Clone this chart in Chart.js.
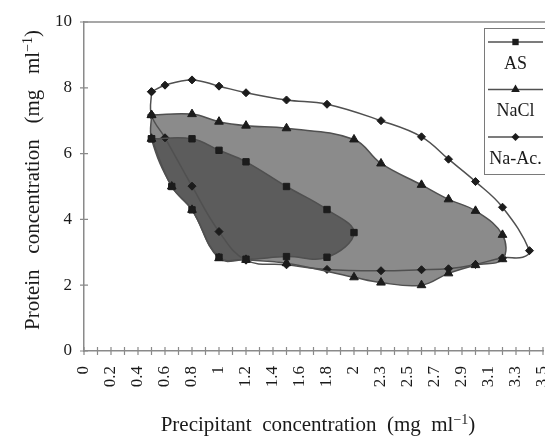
<!DOCTYPE html>
<html><head><meta charset="utf-8">
<style>html,body{margin:0;padding:0;overflow:hidden;background:#fff;width:545px;height:437px}canvas{display:block}</style>
<script src="https://cdn.jsdelivr.net/npm/chart.js@4.4.1/dist/chart.umd.min.js"></script>
</head><body>
<canvas id="c" width="560" height="437"></canvas>
<script>
// x values are positions along the precipitant axis (one tick = 0.1 position unit)
const tickLabels = ['0','0.2','0.4','0.6','0.8','1','1.2','1.4','1.6','1.8','2','2.3','2.5','2.7','2.9','3.1','3.3','3.5'];
const seriesNames = ['AS', 'NaCl', 'Na-Ac.'];

const asX = [0.5, 0.8, 1.0, 1.2, 1.5, 1.8, 2.0, 1.8, 1.5, 1.2, 1.0, 0.8, 0.65, 0.5];
const asY = [6.45, 6.45, 6.1, 5.75, 5.0, 4.3, 3.6, 2.85, 2.87, 2.79, 2.85, 4.29, 5.0, 6.45];

const naclX = [0.5, 0.8, 1.0, 1.2, 1.5, 2.0, 2.2, 2.5, 2.7, 2.9, 3.1, 3.1, 2.9, 2.7, 2.5, 2.2, 2.0, 1.5, 1.2, 1.0, 0.8, 0.65, 0.5, 0.5];
const naclY = [7.17, 7.2, 6.97, 6.85, 6.77, 6.43, 5.7, 5.05, 4.61, 4.26, 3.53, 2.79, 2.61, 2.36, 2.0, 2.08, 2.24, 2.67, 2.77, 2.82, 4.29, 5.0, 6.45, 7.17];

const naacX = [0.5, 0.6, 0.8, 1.0, 1.2, 1.5, 1.8, 2.2, 2.5, 2.7, 2.9, 3.1, 3.3, 3.25, 3.1, 2.9, 2.7, 2.5, 2.2, 1.8, 1.5, 1.2, 1.0, 0.8, 0.6, 0.5, 0.5];
const naacY = [7.88, 8.08, 8.24, 8.05, 7.85, 7.63, 7.5, 7.0, 6.51, 5.83, 5.15, 4.37, 3.05, 2.85, 2.83, 2.63, 2.5, 2.47, 2.44, 2.48, 2.62, 2.76, 3.63, 5.01, 6.48, 7.17, 7.88];

const pts = (xs, ys) => xs.map((x, i) => ({x: x, y: ys[i]}));
const FONT = 'Liberation Serif';
const LINE = '#505050';
const MARK = '#1c1c1c';

function marker(ctx, style, x, y, r) {
  ctx.beginPath();
  if (style === 'rect') { const s = r * Math.SQRT1_2; ctx.rect(x - s, y - s, 2 * s, 2 * s); }
  else if (style === 'triangle') {
    ctx.moveTo(x, y - r); ctx.lineTo(x + r * 0.866, y + r * 0.5); ctx.lineTo(x - r * 0.866, y + r * 0.5); ctx.closePath();
  } else { ctx.moveTo(x - r, y); ctx.lineTo(x, y - r); ctx.lineTo(x + r, y); ctx.lineTo(x, y + r); ctx.closePath(); }
  ctx.fill();
}

const decor = {
  id: 'decor',
  afterDraw(chart) {
    const {ctx, chartArea: a, scales: {x, y}} = chart;
    ctx.save();
    ctx.strokeStyle = '#8a8a8a'; ctx.lineWidth = 1.5;
    ctx.beginPath(); ctx.moveTo(a.left, a.top); ctx.lineTo(chart.width, a.top); ctx.stroke();
    ctx.lineWidth = 1.2;
    ctx.beginPath();
    x.ticks.forEach(t => { const px = x.getPixelForValue(t.value); ctx.moveTo(px, a.bottom - 4); ctx.lineTo(px, a.bottom + 4); });
    y.ticks.forEach(t => { const py = y.getPixelForValue(t.value); ctx.moveTo(a.left - 4, py); ctx.lineTo(a.left + 4, py); });
    ctx.stroke();

    // axis titles
    ctx.fillStyle = '#1a1a1a';
    const drawTitle = (cx, cy, rot, main) => {
      ctx.save(); ctx.translate(cx, cy); ctx.rotate(rot);
      ctx.font = '21px "' + FONT + '"'; ctx.textBaseline = 'alphabetic'; ctx.textAlign = 'left';
      const w1 = ctx.measureText(main).width;
      ctx.font = '14px "' + FONT + '"'; const w2 = ctx.measureText('\u22121').width;
      ctx.font = '21px "' + FONT + '"'; const w3 = ctx.measureText(')').width;
      let sx = -(w1 + w2 + w3) / 2;
      ctx.fillText(main, sx, 0); sx += w1;
      ctx.font = '14px "' + FONT + '"'; ctx.fillText('\u22121', sx, -7); sx += w2;
      ctx.font = '21px "' + FONT + '"'; ctx.fillText(')', sx, 0);
      ctx.restore();
    };
    drawTitle(318, 431, 0, 'Precipitant  concentration  (mg  ml');
    drawTitle(39, 180, -Math.PI / 2, 'Protein   concentration   (mg   ml');

    // legend
    const L = 484, T = 28, R = 547, B = 174;
    ctx.fillStyle = '#ffffff'; ctx.fillRect(L, T, R - L, B - T);
    ctx.strokeStyle = '#7a7a7a'; ctx.lineWidth = 1; ctx.strokeRect(L + 0.5, T + 0.5, R - L, B - T);
    const styles = ['rect', 'triangle', 'rectRot'];
    const rad = [4.5, 5, 4];
    const cx = 515.5;
    seriesNames.forEach((name, i) => {
      const ly = 42 + i * 47.5;
      ctx.strokeStyle = LINE; ctx.lineWidth = 1.5;
      ctx.beginPath(); ctx.moveTo(488, ly); ctx.lineTo(543, ly); ctx.stroke();
      ctx.fillStyle = MARK; marker(ctx, styles[i], cx, ly, rad[i]);
      ctx.font = '18px "' + FONT + '"'; ctx.textAlign = 'center'; ctx.textBaseline = 'middle';
      ctx.fillStyle = '#1a1a1a'; ctx.fillText(name, cx, ly + 22);
    });
    ctx.restore();
  }
};

const common = {showLine: true, fill: 'shape', borderColor: LINE, borderWidth: 1.5, tension: 0.4,
  pointBackgroundColor: MARK, pointBorderColor: MARK, pointBorderWidth: 1};

new Chart(document.getElementById('c'), {
  type: 'line',
  data: {datasets: [
    Object.assign({}, common, {label: seriesNames[0], data: pts(asX, asY), backgroundColor: '#5c5c5c', pointStyle: 'rect', pointRadius: 4.5}),
    Object.assign({}, common, {label: seriesNames[1], data: pts(naclX, naclY), backgroundColor: '#8b8b8b', pointStyle: 'triangle', pointRadius: 5}),
    Object.assign({}, common, {label: seriesNames[2], data: pts(naacX, naacY), backgroundColor: '#ffffff', pointStyle: 'rectRot',
      pointRadius: c => (c.dataIndex === 13 ? 0 : 4)})
  ]},
  options: {
    responsive: false, animation: false, devicePixelRatio: 1,
    layout: {padding: {left: 0, top: 22, right: 17, bottom: 0}},
    plugins: {legend: {display: false}, tooltip: {enabled: false}, filler: {drawTime: 'beforeDatasetsDraw', propagate: false}},
    scales: {
      x: {type: 'linear', min: 0, max: 3.4,
        afterFit: s => { s.height = 86; s.paddingLeft = 0; s.paddingRight = 0; },
        afterBuildTicks: s => { s.ticks = Array.from({length: 35}, (_, i) => ({value: i / 10})); },
        ticks: {autoSkip: false, minRotation: 90, maxRotation: 90, padding: 15, color: '#1a1a1a',
          font: {family: FONT, size: 17},
          callback: v => { const i = Math.round(v * 10); return i % 2 === 0 ? tickLabels[i / 2] : ''; }},
        grid: {display: false, drawTicks: false},
        border: {display: true, color: '#8a8a8a', width: 1.5}},
      y: {min: 0, max: 10,
        afterFit: s => { s.width = 84; s.paddingTop = 0; s.paddingBottom = 0; },
        ticks: {stepSize: 2, padding: 12, color: '#1a1a1a', font: {family: FONT, size: 17}},
        grid: {display: false, drawTicks: false},
        border: {display: true, color: '#8a8a8a', width: 1.5}}
    }
  },
  plugins: [decor]
});
</script>
</body></html>
